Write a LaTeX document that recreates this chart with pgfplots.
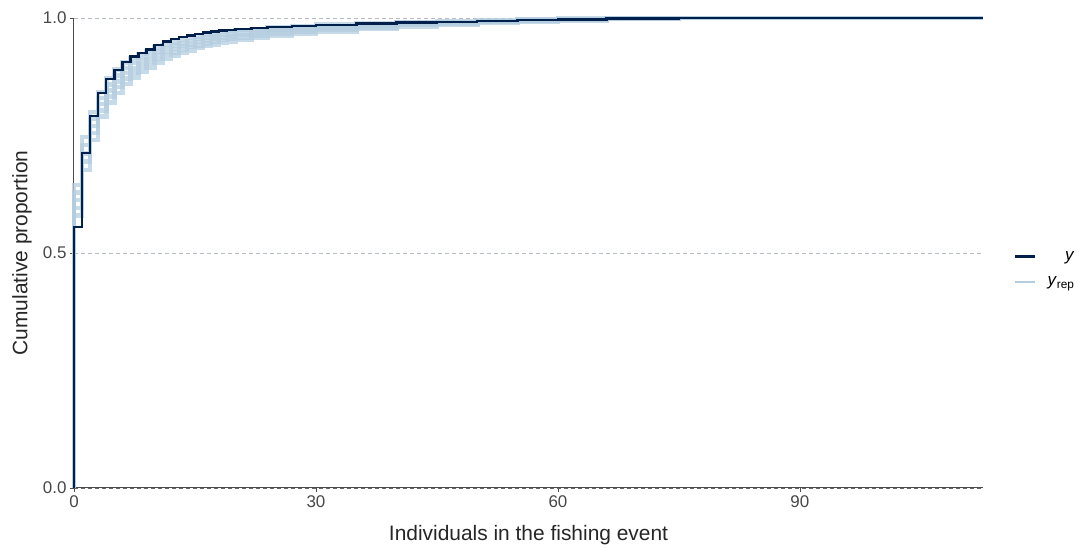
\documentclass[border=0pt]{standalone}
\usepackage{fontspec}
\setmainfont{Liberation Sans}
\usepackage{pgfplots}
\pgfplotsset{compat=1.18}
\usepackage{pgfplotstable}
\definecolor{ydark}{HTML}{011F4B}
\definecolor{ylight}{HTML}{B3CDE0}
\definecolor{hgrid}{HTML}{B4BAC6}

\pgfplotstableread{
x y r1 r2 r3 r4 r5
0 0 0 0 0 0 0
0 .555 .580 .596 .613 .629 .645
1 .713 .677 .695 .712 .730 .747
2 .792 .740 .755 .770 .785 .800
3 .840 .790 .803 .817 .830 .843
4 .870 .820 .833 .846 .859 .872
5 .889 .840 .853 .865 .878 .890
6 .907 .860 .871 .883 .894 .905
7 .918 .873 .884 .894 .905 .915
8 .926 .885 .895 .904 .914 .923
9 .933 .895 .904 .913 .921 .930
10 .943 .905 .913 .921 .929 .937
11 .950 .913 .921 .928 .936 .943
12 .955 .920 .927 .934 .941 .948
13 .959 .926 .933 .940 .946 .953
14 .963 .931 .938 .944 .951 .957
15 .966 .936 .942 .949 .955 .961
16 .969 .940 .946 .952 .958 .964
17 .971 .944 .950 .956 .961 .967
18 .973 .947 .953 .959 .964 .970
19 .975 .950 .956 .961 .967 .972
20 .977 .953 .958 .964 .969 .974
22 .979 .958 .963 .968 .972 .977
24 .981 .962 .967 .971 .976 .980
27 .983 .967 .971 .975 .979 .983
30 .985 .971 .975 .979 .982 .986
35 .988 .977 .980 .983 .986 .989
40 .990 .982 .985 .987 .990 .992
45 .992 .986 .988 .990 .992 .994
50 .994 .989 .991 .993 .994 .996
55 .996 .992 .994 .995 .997 .998
60 .997 .995 .996 .997 .998 .999
66 .999 .998 .999 .999 1 1
75 1 1 1 1 1 1
112.7 1 1 1 1 1 1
}\ecdf

\begin{document}
\begin{tikzpicture}
\begin{axis}[
  scale only axis, width=909bp, height=470bp,
  xmin=0, xmax=112.7, ymin=0, ymax=1,
  clip=false,
  axis lines*=left,
  xtick={0,30,60,90}, ytick={0,0.5,1},
  yticklabel style={/pgf/number format/fixed, /pgf/number format/fixed zerofill, /pgf/number format/precision=1},
  tick align=outside, major tick length=4bp,
  tick style={black!70, line width=0.8bp},
  axis line style={black!70, line width=1bp},
  /pgf/number format/assume math mode=true,
  ticklabel style={font=\fontsize{17}{19}\selectfont, text=black!72},
  xlabel={Individuals in the fishing event},
  ylabel={Cumulative proportion},
  label style={font=\fontsize{21}{24}\selectfont, text=black!85},
  xlabel style={at={(rel axis cs:0.5,0)}, anchor=center, yshift=-47bp},
  ylabel style={at={(axis description cs:-0.0572,0.5)}, anchor=center},
  legend style={draw=none, fill=none, at={(rel axis cs:1.034,0.508)}, anchor=north west,
    font=\fontsize{17}{19}\selectfont, row sep=11bp, column sep=9bp, inner sep=0pt},
  legend cell align=right,
  legend image code/.code={\draw[#1] (0bp,0bp) -- (20bp,0bp);},
]
\addplot[hgrid, dashed, dash pattern=on 4bp off 3bp, line width=0.8bp, forget plot] coordinates {(0,0.5) (112.7,0.5)};
\addplot[hgrid, dashed, dash pattern=on 4bp off 3bp, line width=0.8bp, forget plot] coordinates {(0,1) (112.7,1)};
\addplot[black!60, dashed, dash pattern=on 4bp off 3bp, line width=0.8bp, forget plot] coordinates {(0,0) (112.7,0)};
\addplot[const plot, ylight, opacity=0.75, line width=4.5bp, forget plot] table[x=x, y=r1] {\ecdf};
\addplot[const plot, ylight, opacity=0.75, line width=4.5bp, forget plot] table[x=x, y=r2] {\ecdf};
\addplot[const plot, ylight, opacity=0.75, line width=4.5bp, forget plot] table[x=x, y=r3] {\ecdf};
\addplot[const plot, ylight, opacity=0.75, line width=4.5bp, forget plot] table[x=x, y=r4] {\ecdf};
\addplot[const plot, ylight, opacity=0.75, line width=4.5bp, forget plot] table[x=x, y=r5] {\ecdf};
\addplot[const plot, ydark, line width=2.4bp, forget plot] table[x=x, y=y] {\ecdf};
\addlegendimage{ydark, line width=2.4bp}
\addlegendentry{\textit{y}}
\addlegendimage{ylight, line width=2.4bp}
\addlegendentry{\textit{y}\textsubscript{rep}}
\end{axis}
\path ([xshift=-74bp,yshift=-61bp]current axis.south west) rectangle ([xshift=100bp,yshift=18bp]current axis.north east);
\end{tikzpicture}
\end{document}
